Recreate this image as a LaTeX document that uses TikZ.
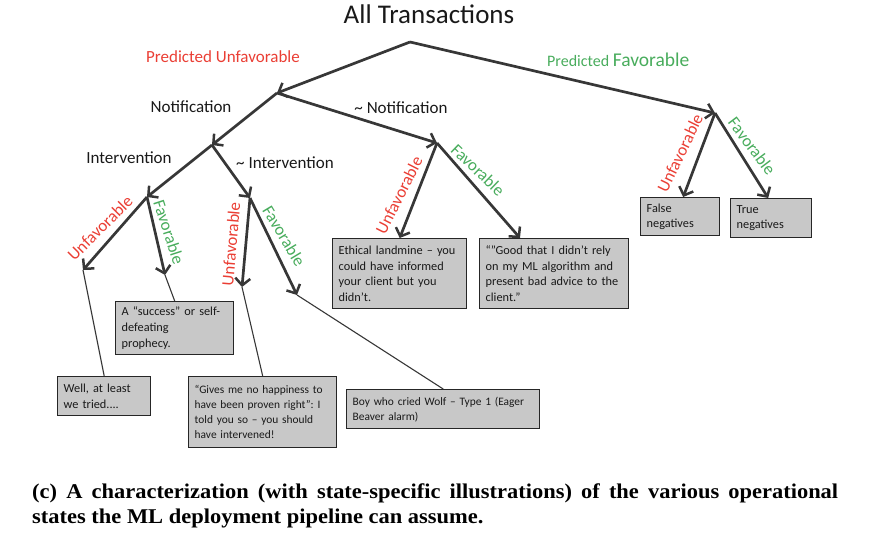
\documentclass[tikz,border=0pt]{standalone}
\usepackage{fontspec}
\setmainfont{Carlito}
\newfontfamily\capfont[FakeStretch=1.07]{Liberation Serif}
\usetikzlibrary{arrows.meta,calc}
\definecolor{ared}{RGB}{234,62,52}
\definecolor{agreen}{RGB}{72,172,92}
\definecolor{lnc}{RGB}{55,55,55}
\definecolor{txt}{RGB}{25,25,25}
\definecolor{boxfill}{RGB}{200,200,200}
\begin{document}
\frenchspacing
\begin{tikzpicture}[x=1pt,y=-1pt,
  arr/.style={draw=lnc,line width=2.7pt,-{Straight Barb[length=7pt,width=15pt,line width=2.5pt]}},
  thinline/.style={draw=lnc,line width=1.1pt},
  lbl/.style={font=\fontsize{17}{20}\selectfont,inner sep=0pt},
  blk/.style={lbl,text=txt},
  redlbl/.style={lbl,text=ared},
  greenlbl/.style={lbl,text=agreen},
  box/.style={draw=black!85,line width=1.4pt,fill=boxfill,text=txt,
    font=\fontsize{12.3}{15.7}\selectfont\frenchspacing,align=left,anchor=north west,
    inner xsep=6pt,inner ysep=2pt},
  smallbox/.style={box,font=\fontsize{11.4}{15}\selectfont\frenchspacing}
]
\useasboundingbox (0,0) rectangle (877,552);

% title
\node[font=\fontsize{27}{32}\selectfont,text=txt,anchor=base,inner sep=0pt] (title) at (429,23) {All Transactions};

% branch points
\coordinate (root) at (410,42);
\coordinate (pu) at (277,93);
\coordinate (pf) at (715,113);
\coordinate (nt) at (212,145);
\coordinate (nn) at (437,143);
\coordinate (iv) at (147,197);
\coordinate (ni) at (250,198);
\coordinate (u1) at (83,270);
\coordinate (f1) at (165,275);
\coordinate (u2) at (242,287);
\coordinate (f2) at (297,295);

% boxes (text width = box width - 12)
\node[box,text width=67pt,minimum height=38pt] (fn) at (640,197) {False\\negatives};
\node[box,text width=69pt,minimum height=39pt] (tn) at (730,198) {True\\negatives};
\node[box,text width=122pt,minimum height=70pt] (eth) at (332,238) {\mbox{Ethical landmine – you}\\could have informed\\your client but you\\didn’t.};
\node[box,text width=137pt,minimum height=70pt] (good) at (479,238) {\mbox{“"Good that I didn’t rely}\\\mbox{on my ML algorithm and}\\\mbox{present bad advice to the}\\client.”};
\node[box,text width=106pt,minimum height=53pt] (suc) at (115,301) {\mbox{A “success” or self-}\\defeating\\prophecy.};
\node[box,text width=81pt,minimum height=39pt] (well) at (57,376) {Well, at least\\we tried....};
\node[smallbox,text width=136pt,minimum height=71pt] (gives) at (188,376) {\mbox{“Gives me no happiness to}\\\mbox{have been proven right”: I}\\\mbox{told you so – you should}\\have intervened!};
\node[smallbox,text width=181pt,minimum height=39pt] (boy) at (346,389) {\mbox{Boy who cried Wolf – Type 1 (Eager}\\Beaver alarm)};

% arrows
\draw[arr] (root) -- (pu);
\draw[arr] (root) -- (pf);
\draw[arr] (pu) -- (nt);
\draw[arr] (pu) -- (nn);
\draw[arr] (nt) -- (iv);
\draw[arr] (nt) -- (ni);
\draw[arr] (iv) -- (u1);
\draw[arr] (iv) -- (f1);
\draw[arr] (ni) -- (u2);
\draw[arr] (ni) -- (f2);
\draw[arr] (nn) -- (eth.north);
\draw[arr] (nn) -- ($(good.north west)+(41,0)$);
\draw[arr] (pf) -- ($(fn.north)+(3,0)$);
\draw[arr] (pf) -- ($(tn.north)+(-3,0)$);

% thin connectors
\draw[thinline] (u1) -- (well.north);
\draw[thinline] (f1) -- (suc.north);
\draw[thinline] (u2) -- (gives.north);
\draw[thinline] (f2) -- (boy.north);

% labels
\node[redlbl] (lpu) at (223,57) {Predicted Unfavorable};
\node[lbl,text=agreen,anchor=base west] (lpf) at (547,66) {\fontsize{16}{19}\selectfont Predicted \fontsize{19.5}{22}\selectfont Favorable};
\node[blk] (lnot) at (191,107) {Notification};
\node[blk] (lnnot) at (401,108) {\textasciitilde{} Notification};
\node[blk] (lint) at (129,158) {Intervention};
\node[blk] (lnint) at (285,163) {\textasciitilde{} Intervention};

\node[redlbl,rotate=45] (l1) at (100,228) {Unfavorable};
\node[greenlbl,rotate=-72] (l2) at (169,232) {Favorable};
\node[redlbl,rotate=85] (l3) at (231,244) {Unfavorable};
\node[greenlbl,rotate=-59] (l4) at (284,236) {Favorable};
\node[redlbl,rotate=63] (l5) at (399,195) {Unfavorable};
\node[greenlbl,rotate=-44] (l6) at (478,170) {Favorable};
\node[redlbl,rotate=64] (l7) at (680,153) {Unfavorable};
\node[greenlbl,rotate=-53] (l8) at (752,146) {Favorable};

% caption
\node[font=\capfont\bfseries\fontsize{21}{25}\selectfont,anchor=base west,inner sep=0pt] (cap1) at (32,498)
  {\makebox[806pt][s]{(c) A characterization (with state-specific illustrations) of the various operational}};
\node[font=\capfont\bfseries\fontsize{21}{25}\selectfont,anchor=base west,inner sep=0pt] (cap2) at (32,523)
  {states the ML deployment pipeline can assume.};
\end{tikzpicture}
\end{document}
